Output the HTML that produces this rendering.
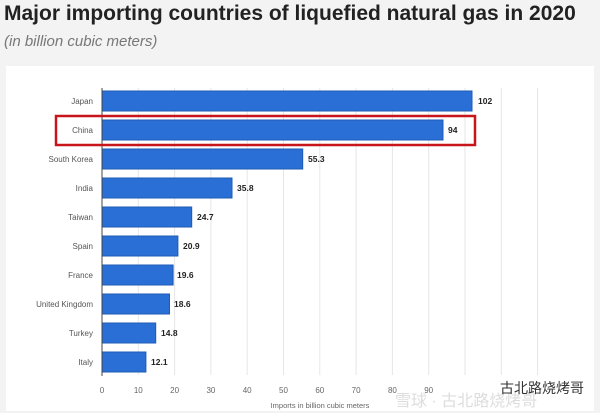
<!DOCTYPE html>
<html><head><meta charset="utf-8"><style>
body{margin:0;width:600px;height:413px;background:#f3f3f3;font-family:"Liberation Sans",sans-serif;overflow:hidden;position:relative}
.t{position:absolute;left:4px;top:2px;font-size:21px;font-weight:bold;color:#222}
.s{position:absolute;left:4px;top:33px;font-size:15px;font-style:italic;color:#777}
.card{position:absolute;left:6px;top:66px;width:588px;height:345px;background:#fff}
</style></head><body>
<div class="t">Major importing countries of liquefied natural gas in 2020</div>
<div class="s">(in billion cubic meters)</div>
<div class="card"></div>
<svg width="600" height="413" style="position:absolute;left:0;top:0" font-family="Liberation Sans, sans-serif">
<g stroke="#e6e6e6" stroke-width="1">
<line x1="138.3" y1="88" x2="138.3" y2="375"/><line x1="174.6" y1="88" x2="174.6" y2="375"/><line x1="210.9" y1="88" x2="210.9" y2="375"/><line x1="247.2" y1="88" x2="247.2" y2="375"/><line x1="283.5" y1="88" x2="283.5" y2="375"/><line x1="319.8" y1="88" x2="319.8" y2="375"/><line x1="356.1" y1="88" x2="356.1" y2="375"/><line x1="392.4" y1="88" x2="392.4" y2="375"/><line x1="428.7" y1="88" x2="428.7" y2="375"/><line x1="465" y1="88" x2="465" y2="375"/><line x1="501.3" y1="88" x2="501.3" y2="375"/><line x1="537.6" y1="88" x2="537.6" y2="375"/>
</g>
<g fill="#2a6fd6" stroke="#1d5bb5" stroke-width="1">
<rect x="102" y="91" width="370" height="20"/>
<rect x="102" y="120" width="341" height="20"/>
<rect x="102" y="149" width="200.7" height="20"/>
<rect x="102" y="178" width="130" height="20"/>
<rect x="102" y="207" width="89.7" height="20"/>
<rect x="102" y="236" width="75.9" height="20"/>
<rect x="102" y="265" width="71.1" height="20"/>
<rect x="102" y="294" width="67.5" height="20"/>
<rect x="102" y="323" width="53.7" height="20"/>
<rect x="102" y="352" width="43.9" height="20"/>
</g>
<line x1="102" y1="88" x2="102" y2="376" stroke="#444" stroke-width="1"/>
<rect x="56" y="116" width="419" height="29" fill="none" stroke="#c8141b" stroke-width="2.5"/>
<g font-size="8" fill="#555" text-anchor="end">
<text x="93" y="104">Japan</text><text x="93" y="133">China</text><text x="93" y="162">South Korea</text><text x="93" y="191">India</text><text x="93" y="220">Taiwan</text><text x="93" y="249">Spain</text><text x="93" y="278">France</text><text x="93" y="307">United Kingdom</text><text x="93" y="336">Turkey</text><text x="93" y="365">Italy</text>
</g>
<g font-size="8.5" fill="#222" font-weight="bold">
<text x="478" y="104">102</text><text x="448" y="133">94</text><text x="308" y="162">55.3</text><text x="237" y="191">35.8</text><text x="197" y="220">24.7</text><text x="183" y="249">20.9</text><text x="177" y="278">19.6</text><text x="174" y="307">18.6</text><text x="161" y="336">14.8</text><text x="151" y="365">12.1</text>
</g>
<g font-size="8" fill="#666" text-anchor="middle">
<text x="102" y="393">0</text><text x="138.3" y="393">10</text><text x="174.6" y="393">20</text><text x="210.9" y="393">30</text><text x="247.2" y="393">40</text><text x="283.5" y="393">50</text><text x="319.8" y="393">60</text><text x="356.1" y="393">70</text><text x="392.4" y="393">80</text><text x="428.7" y="393">90</text>
<text x="320" y="408" font-size="7.5">Imports in billion cubic meters</text>
</g>
<text x="395" y="406" font-size="16" fill="#ddd" font-family="Liberation Sans, Noto Sans CJK SC, sans-serif">雪球 · 古北路烧烤哥</text>
<text x="500" y="393" font-size="14" fill="#333" font-family="Liberation Sans, Noto Sans CJK SC, sans-serif">古北路烧烤哥</text>
</svg>
</body></html>
